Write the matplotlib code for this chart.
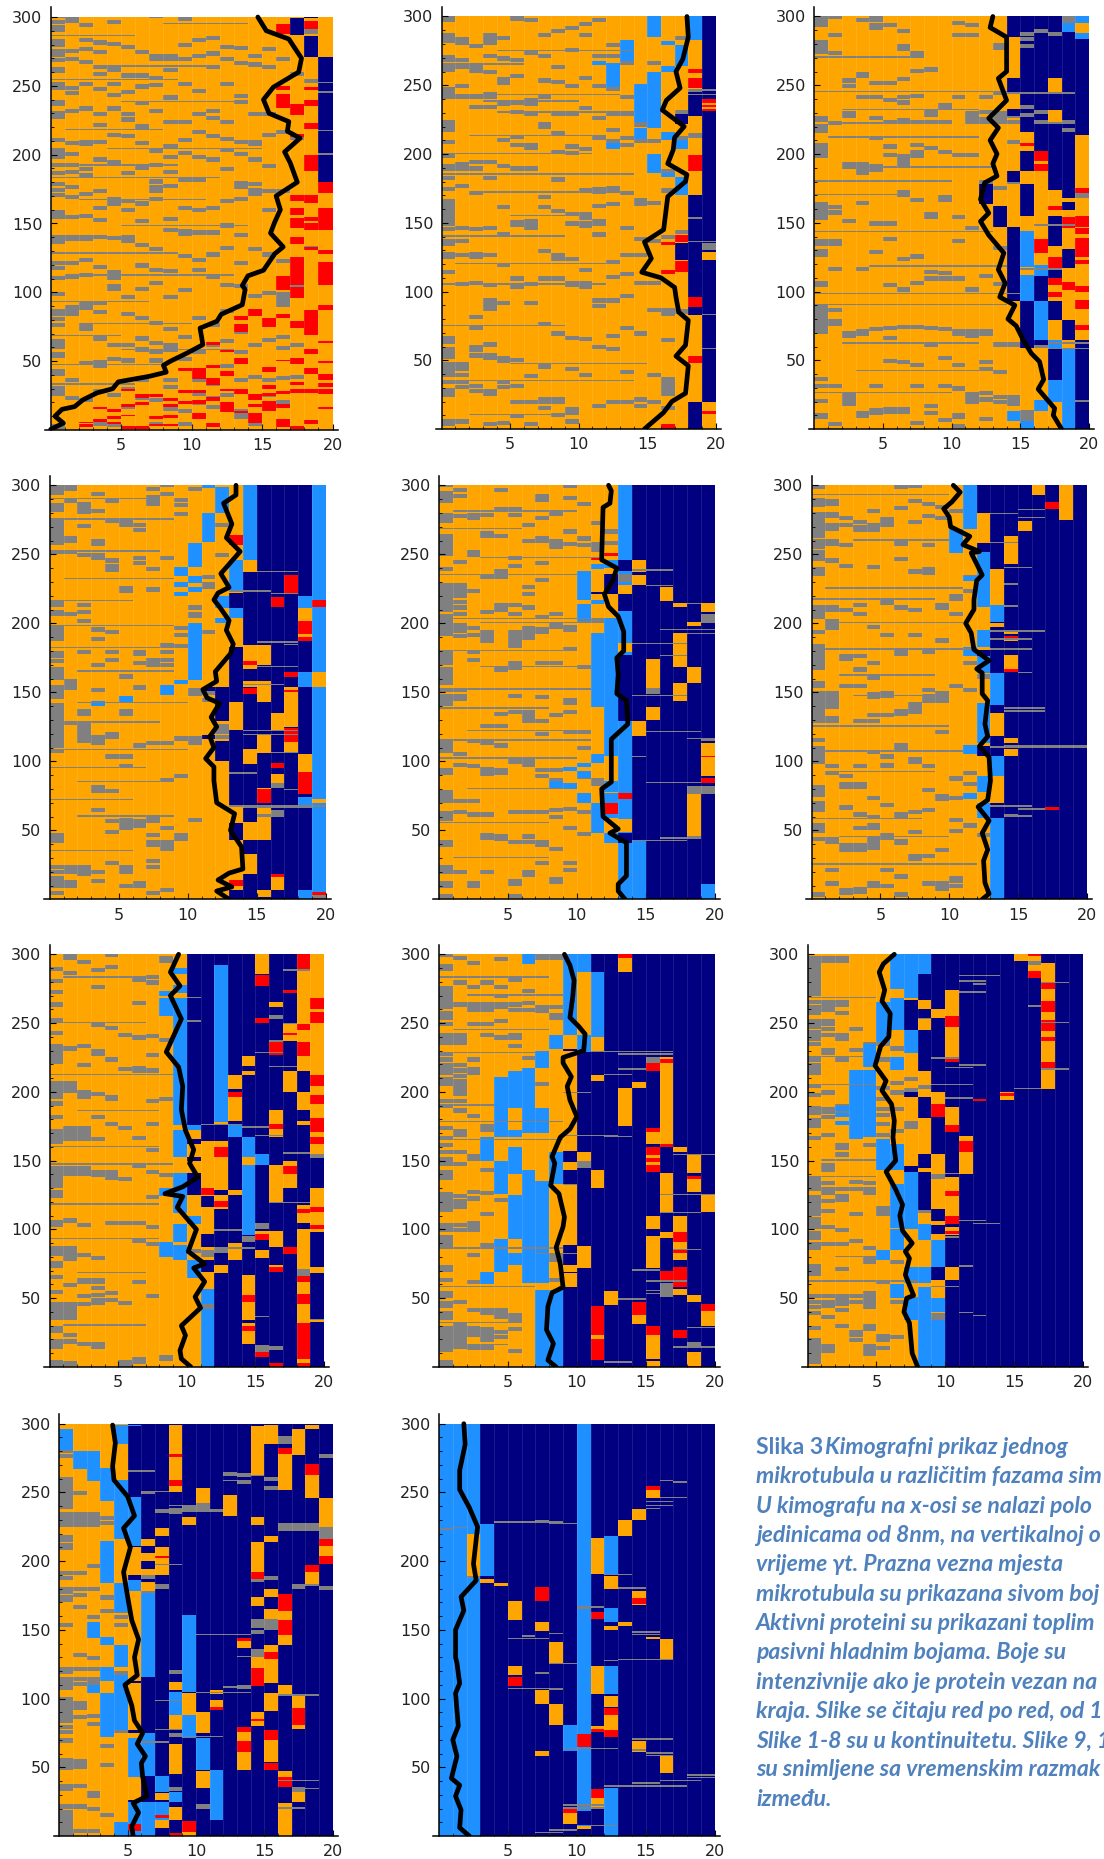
import numpy as np
import matplotlib
matplotlib.use('Agg')
from matplotlib import pyplot as plt
from matplotlib.colors import ListedColormap

CODES = {'O': 0, 'G': 1, 'R': 2, 'L': 3, 'B': 4}
COLORS = ['#FFA500', '#808080', '#FF0000', '#1E90FF', '#000080']

# each panel: base colour per column, blocks per column (from, to, colour),
# gray dashes per column, thin streaks (row, col from, col to), black line

# panel 1
base1 = 'OOOOOOOOOOOOOOOOOOOO'
blocks1 = {
    19: [(180, 271, 'B'), (172, 180, 'R'), (145, 161, 'R'), (128, 131, 'R'), (105, 122, 'R'), (87, 91, 'R'), (36, 41, 'R'), (31, 34, 'R'), (26, 30, 'R'), (15, 17, 'R'), (63, 65, 'R'), (49, 50, 'R')],
    18: [(271, 286, 'B'), (299, 300, 'B'), (291, 297, 'R'), (247, 249, 'R'), (235, 240, 'R'), (219, 223, 'R'), (188, 200, 'R'), (165, 171, 'R'), (152, 155, 'R'), (145, 150, 'R'), (131, 133, 'R'), (69, 87, 'R'), (55, 59, 'R'), (41, 45, 'R'), (27, 30, 'R'), (4, 7, 'R')],
    17: [(287, 299, 'B'), (229, 237, 'R'), (213, 215, 'R'), (166, 171, 'R'), (156, 161, 'R'), (147, 154, 'R'), (135, 140, 'R'), (105, 126, 'R'), (96, 104, 'R'), (74, 79, 'R'), (48, 52, 'R'), (33, 35, 'R'), (27, 30, 'R'), (1, 3, 'R')],
    16: [(288, 295, 'R'), (247, 250, 'R'), (234, 244, 'R'), (102, 112, 'R'), (81, 84, 'R'), (50, 51, 'R'), (2, 8, 'R'), (26, 28, 'R'), (16, 19, 'R')],
    15: [(75, 81, 'R'), (42, 46, 'R'), (30, 33, 'R'), (14, 21, 'R'), (25, 27, 'R')],
    14: [(83, 88, 'R'), (22, 26, 'R'), (5, 12, 'R'), (17, 19, 'R')],
    13: [(80, 83, 'R'), (71, 77, 'R'), (48, 52, 'R'), (26, 30, 'R'), (12, 14, 'R'), (74, 75, 'R')],
    12: [(57, 59, 'R'), (39, 43, 'R'), (13, 20, 'R'), (28, 30, 'R')],
    11: [(45, 47, 'R'), (33, 38, 'R'), (21, 24, 'R'), (2, 5, 'R'), (62, 64, 'R')],
    10: [(37, 45, 'R'), (8, 12, 'R'), (19, 22, 'R'), (27, 29, 'R')],
    9: [(43, 45, 'R'), (19, 21, 'R'), (27, 29, 'R')],
    8: [(21, 23, 'R'), (17, 19, 'R'), (9, 11, 'R'), (3, 4, 'R')],
    7: [(8, 10, 'R'), (3, 4, 'R'), (24, 26, 'R')],
    6: [(23, 26, 'R'), (18, 20, 'R'), (1, 3, 'R')],
    5: [(28, 30, 'R'), (17, 19, 'R'), (10, 11, 'R'), (1, 3, 'R')],
    4: [(13, 15, 'R'), (8, 10, 'R'), (4, 6, 'R')],
    3: [(15, 17, 'R'), (6, 8, 'R')],
    2: [(2, 4, 'R'), (5, 6, 'R')],
}
gray1 = {
    0: [299, 295, 291, 289, 281, 278, 274, 271, 267, 261, 259, 250, 247, 237, 235, 229, 226, 209, 202, 199, 197, 191, 185, 177, 173, 169, 157, 155, 153, 139, 137, 135, 120, 116, 109, 97, 85, 83, 79, 75, 63, 61, 59, 54, 52, 41, 39, 29, 27, 25, 1],
    1: [298, 296, 274, 268, 247, 243, 230, 207, 199, 191, 186, 175, 168, 153, 139, 137, 120, 110, 88, 85, 83, 35, 22],
    2: [293, 282, 275, 266, 250, 232, 208, 206, 188, 184, 170, 154, 139, 137, 122, 111, 90, 87, 75, 72, 47, 20],
    3: [280, 273, 262, 257, 246, 228, 220, 208, 195, 172, 160, 151, 139, 117, 91, 84, 65, 48, 45, 27, 3],
    4: [295, 279, 262, 260, 250, 242, 232, 213, 193, 166, 163, 138, 113, 109, 103, 101, 60, 50, 24, 2],
    5: [277, 256, 244, 228, 224, 212, 185, 165, 158, 139, 136, 95, 83, 60, 49, 28, 15],
    6: [273, 256, 248, 236, 219, 207, 189, 163, 150, 133, 118, 101, 80, 65, 57, 35, 22],
    7: [299, 270, 268, 254, 249, 230, 201, 191, 179, 175, 172, 166, 130, 115, 105, 76, 62, 55, 49, 20, 3],
    8: [270, 268, 260, 240, 222, 205, 197, 186, 176, 152, 144, 114, 95, 72, 60, 57, 35, 30, 14],
    9: [297, 278, 268, 250, 222, 209, 200, 180, 160, 143, 141, 125, 100, 66, 50, 12, 3],
    10: [282, 270, 245, 228, 215, 197, 180, 158, 142, 122, 115, 80, 55, 35, 25, 18],
    11: [283, 272, 262, 230, 225, 212, 195, 160, 142, 126, 110, 75, 60, 32, 22, 15],
    12: [277, 268, 250, 222, 210, 202, 188, 165, 147, 131, 104, 85, 63, 45, 24],
    13: [276, 265, 241, 237, 208, 199, 178, 175, 166, 140, 120, 103, 70, 55, 35, 12, 10, 8],
    14: [270, 264, 228, 208, 206, 195, 177, 173, 170, 130, 96, 60, 37, 22, 3],
    15: [275, 262, 228, 213, 190, 172, 158, 126, 98, 64, 35, 24],
    16: [268, 215, 172, 121, 97, 94, 92, 89, 66, 58, 36, 19],
    17: [289, 257, 211, 103, 60, 37],
    18: [288, 252, 131],
}
streaks1 = [(245, 19, 20), (252, 19, 20), (200, 19, 20), (217, 19, 20),
            (286, 0, 6), (264, 3, 12), (254, 0, 9), (238, 5, 14), (218, 1, 8), (204, 4, 15), (183, 0, 12), (167, 2, 11), (148, 5, 14), (128, 0, 9), (112, 3, 13), (93, 0, 7), (77, 2, 10), (68, 0, 5), (58, 5, 13), (47, 0, 8), (33, 0, 6), (295, 8, 14), (192, 2, 9)]
line1_x = [0, 0.9, 0.3, 0.8, 1.7, 2.3, 3.3, 4.4, 4.8, 7, 8.2, 8, 8.5, 9.7, 10.8, 10.6, 11.8, 12.1, 13.6, 13.8, 13.6, 14, 15.1, 15.9, 16.5, 15.6, 15.9, 16.3, 16, 17.5, 17, 16.6, 17.7, 16.8, 16.9, 15.5, 15.1, 15.8, 17.6, 17.8, 16.9, 15.3, 14.7]
line1_y = [0.5, 5, 10, 15, 17, 22, 27, 30, 35, 39, 42, 47, 50, 56, 62, 74, 79, 84, 91, 102, 105, 112, 116, 128, 133, 143, 151, 160, 170, 180, 194, 202, 212, 217, 224, 230, 240, 249, 260, 270, 284, 290, 300]

# panel 2
base2 = 'OOOOOOOOOOOOOOOOOOOB'
blocks2 = {
    19: [(0, 20, 'O'), (11, 13, 'R'), (231, 240, 'R'), (233, 234, 'O'), (236, 237, 'O'), (123, 129, 'O'), (130, 135, 'G')],
    18: [(283, 300, 'L'), (259, 262, 'R'), (248, 255, 'R'), (228, 245, 'B'), (188, 199, 'R'), (83, 170, 'B'), (89, 96, 'R'), (48, 53, 'R'), (0, 20, 'B')],
    17: [(264, 279, 'L'), (204, 210, 'L'), (170, 183, 'L'), (222, 229, 'B'), (123, 135, 'B'), (114, 122, 'R'), (136, 141, 'R')],
    16: [(279, 282, 'L'), (260, 264, 'L'), (210, 216, 'L'), (183, 186, 'L'), (113, 116, 'R'), (134, 136, 'R'), (0, 4, 'R'), (24, 30, 'G'), (31, 38, 'G')],
    15: [(285, 300, 'L'), (251, 260, 'L'), (219, 251, 'L'), (186, 200, 'L')],
    14: [(223, 251, 'L'), (211, 219, 'L')],
    13: [(268, 283, 'L')],
    12: [(249, 266, 'L'), (204, 208, 'L')],
    11: [(265, 268, 'L')],
}
gray2 = {
    0: [298, 296, 285, 283, 281, 269, 267, 262, 260, 246, 244, 242, 240, 222, 220, 218, 216, 207, 197, 190, 188, 181, 173, 164, 162, 160, 158, 156, 154, 152, 150, 148, 144, 135, 133, 126, 124, 113, 65, 62, 57, 55, 53, 51, 46, 44, 42, 40, 38, 33, 27, 25, 23, 4, 2],
    1: [282, 279, 267, 262, 248, 240, 191, 188, 175, 145, 135, 125, 104, 46, 44, 42, 38, 33, 29, 4],
    2: [277, 262, 259, 240, 233, 193, 188, 170, 144, 126, 124, 105, 80, 72, 58, 56, 52, 30, 26],
    3: [285, 283, 281, 279, 270, 258, 242, 240, 233, 193, 181, 145, 125, 103, 92, 90, 88, 86, 60, 52, 50, 26, 24, 2],
    4: [283, 268, 253, 250, 235, 209, 190, 160, 140, 118, 90, 50, 48, 33, 29, 3],
    5: [297, 267, 255, 236, 229, 211, 205, 188, 149, 147, 108, 102, 49, 30, 18, 8],
    6: [296, 272, 238, 235, 228, 205, 203, 188, 150, 148, 145, 104, 90, 37, 18, 2],
    7: [285, 270, 252, 240, 218, 220, 160, 167, 128, 108, 75, 44, 20, 18, 14],
    8: [288, 262, 251, 228, 214, 200, 180, 157, 122, 125, 108, 68, 20, 18, 9],
    9: [290, 274, 248, 228, 204, 199, 155, 148, 122, 105, 103, 65, 42, 13, 10, 4],
    10: [293, 285, 254, 232, 202, 172, 155, 152, 148, 146, 114, 105, 102, 64, 38],
    11: [296, 270, 248, 225, 210, 173, 171, 161, 150, 148, 140, 92, 88, 58, 15],
    12: [278, 270, 246, 228, 216, 208, 174, 172, 162, 120, 109, 92, 66, 57, 18],
    13: [265, 240, 228, 210, 205, 170, 145, 125, 111, 95, 72, 40, 18],
    14: [240, 220, 208, 165, 162, 137, 125, 105, 68, 20, 15],
    15: [287, 265, 208, 163, 135, 105, 85, 38, 18],
    16: [186, 172, 138, 85, 82, 63, 14, 30],
    17: [283, 229, 210, 142, 84],
    18: [244, 242, 212, 83],
}
streaks2 = [(83, 19, 20), (58, 19, 20), (246, 19, 20), (243, 18, 20), (136, 18, 20), (153, 18, 19),
            (105, 0, 12), (47, 5, 15), (35, 1, 14), (243, 0, 13), (238, 3, 10), (230, 4, 13), (213, 2, 12), (185, 0, 14), (172, 3, 12), (120, 1, 12), (75, 0, 9), (265, 0, 6), (275, 4, 14), (140, 0, 9), (10, 2, 10), (200, 0, 11), (155, 5, 11)]
line2_x = [14.8, 16.2, 16.8, 17.8, 18, 17.1, 17.8, 18, 17.3, 17.1, 17, 16, 14.6, 15.3, 14.8, 16.2, 16.5, 17.8, 17.9, 16.5, 16.9, 17, 17.7, 16.1, 16.4, 17.4, 17.1, 17.6, 18, 17.9]
line2_y = [0, 12, 20, 26, 46, 53, 61, 79, 85, 96, 103, 110, 114, 124, 136, 145, 169, 180, 185, 193, 203, 212, 220, 232, 239, 248, 260, 269, 285, 300]

# panel 3
base3 = 'OOOOOOOOOOOOOOOBBBBO'
blocks3 = {
    19: [(295, 300, 'L'), (284, 288, 'L'), (214, 284, 'B'), (172, 175, 'R'), (168, 172, 'G'), (147, 155, 'R'), (142, 146, 'R'), (125, 139, 'R'), (120, 123, 'R'), (0, 65, 'B'), (72, 76, 'R'), (87, 94, 'R'), (100, 104, 'R')],
    18: [(295, 300, 'G'), (289, 295, 'L'), (0, 59, 'L'), (59, 65, 'O'), (65, 79, 'B'), (79, 101, 'O'), (101, 107, 'R'), (107, 117, 'O'), (117, 131, 'B'), (131, 146, 'O'), (146, 154, 'R'), (154, 159, 'O'), (159, 165, 'B'), (165, 168, 'O')],
    17: [(0, 20, 'O'), (20, 36, 'L'), (36, 50, 'B'), (53, 58, 'B'), (58, 65, 'L'), (65, 79, 'O'), (93, 96, 'O'), (96, 100, 'R'), (100, 105, 'O'), (105, 110, 'R'), (117, 125, 'R'), (125, 133, 'O'), (145, 155, 'B'), (155, 159, 'O'), (159, 162, 'R'), (162, 174, 'O'), (244, 255, 'O'), (223, 232, 'O')],
    16: [(0, 13, 'O'), (13, 21, 'L'), (21, 59, 'O'), (65, 93, 'L'), (111, 119, 'L'), (119, 128, 'O'), (128, 138, 'R'), (138, 188, 'O'), (188, 202, 'R'), (193, 195, 'O'), (93, 111, 'B')],
    15: [(0, 6, 'L'), (6, 14, 'G'), (14, 59, 'O'), (59, 93, 'B'), (93, 112, 'L'), (112, 118, 'O'), (118, 144, 'L'), (144, 155, 'O'), (158, 178, 'B'), (178, 188, 'O'), (188, 201, 'B'), (202, 216, 'O'), (206, 208, 'R')],
    14: [(6, 13, 'L'), (93, 118, 'B'), (118, 147, 'B'), (180, 188, 'B'), (237, 244, 'O'), (245, 255, 'B'), (285, 300, 'B'), (228, 233, 'B')],
    13: [(147, 162, 'B')],
    12: [(164, 178, 'B')],
}
gray3 = {
    0: [298, 296, 294, 292, 280, 278, 276, 273, 225, 223, 219, 217, 215, 205, 203, 201, 199, 197, 162, 160, 158, 156, 154, 152, 135, 133, 125, 128, 105, 103, 87, 85, 83, 81, 79, 77, 75, 73, 71, 69, 35, 30, 19, 9, 7],
    1: [298, 285, 272, 221, 160, 156, 135, 133, 115, 85, 77, 75, 30, 2],
    2: [252, 248, 228, 226, 191, 189, 150, 68, 66, 23, 21, 19, 17],
    3: [296, 257, 255, 240, 191, 189, 187, 185, 163, 70, 68, 10, 8, 115],
    4: [298, 296, 292, 290, 250, 240, 225, 210, 190, 187, 148, 127, 71, 30, 12, 10],
    5: [292, 250, 238, 222, 204, 198, 148, 137, 103, 72, 65, 48, 13, 11],
    6: [288, 277, 275, 253, 240, 236, 223, 197, 194, 191, 171, 169, 122, 100, 73, 47, 13, 11],
    7: [272, 270, 259, 241, 222, 205, 200, 197, 165, 124, 105, 73, 45, 30, 3],
    8: [260, 229, 227, 222, 203, 155, 153, 113, 108, 72, 60, 15, 10],
    9: [234, 232, 222, 200, 167, 165, 112, 108, 71, 50, 30, 5],
    10: [294, 285, 240, 198, 153, 135, 108, 70, 68, 45, 28, 9, 7, 1],
    11: [292, 285, 228, 226, 224, 222, 198, 145, 100, 70, 68, 66, 24, 22, 20, 18],
    12: [240, 229, 224, 222, 178, 175, 110, 70, 68, 47, 42, 25, 20, 6],
    13: [278, 276, 243, 228, 226, 224, 222, 174, 130, 104, 60, 40, 22, 18],
    14: [228, 226, 222, 207, 178, 96, 60, 22, 20, 17],
    15: [286, 282, 277, 233, 227, 115, 61, 11],
    16: [288, 229, 222, 125, 58, 56],
    17: [286, 222, 145, 60],
    18: [222, 216, 60],
}
streaks3 = [(58, 17, 20), (62, 17, 20), (20, 19, 20), (148, 16, 19), (116, 15, 18), (244, 14, 19),
            (270, 0, 8), (245, 0, 13), (232, 2, 12), (212, 1, 12), (190, 3, 13), (180, 0, 10), (170, 0, 7), (143, 0, 13), (118, 4, 14), (98, 0, 15), (90, 0, 14), (62, 2, 12), (42, 3, 14), (26, 0, 10), (222, 2, 9)]
line3_x = [18, 17.4, 17.5, 16.3, 16.7, 16.4, 15.8, 15.2, 14.7, 14.1, 14.6, 13.5, 13.9, 13.4, 13.8, 12.7, 12.1, 12.7, 12.1, 12.4, 13.3, 13, 13.3, 12.8, 13.4, 12.7, 14, 13.4, 14, 14, 12.8, 13]
line3_y = [0, 10, 15, 29, 36, 49, 55, 65, 75, 80, 90, 96, 106, 116, 128, 141, 151, 157, 167, 179, 184, 193, 200, 210, 219, 226, 239, 255, 260, 285, 292, 300]

# panel 4
base4 = 'OOOOOOOOOOOOOOBBBBBL'
blocks4 = {
    19: [(212, 217, 'R'), (154, 165, 'O'), (70, 73, 'O'), (0, 5, 'R'), (1, 3, 'G')],
    18: [(211, 220, 'L'), (202, 211, 'O'), (187, 202, 'R'), (190, 192, 'O'), (154, 165, 'L'), (92, 105, 'O'), (76, 92, 'R'), (68, 74, 'L'), (0, 7, 'L')],
    17: [(221, 235, 'R'), (161, 165, 'R'), (148, 154, 'O'), (150, 152, 'R'), (125, 148, 'O'), (114, 124, 'R'), (106, 114, 'O')],
    16: [(212, 219, 'R'), (123, 135, 'O'), (95, 99, 'R'), (84, 91, 'O'), (81, 84, 'G'), (60, 65, 'G'), (16, 18, 'R'), (7, 16, 'O')],
    15: [(170, 184, 'O'), (143, 158, 'O'), (106, 120, 'O'), (70, 80, 'R'), (80, 81, 'O'), (59, 66, 'O'), (43, 59, 'O'), (60, 62, 'G'), (18, 33, 'B'), (2, 7, 'O'), (0, 2, 'B'), (66, 68, 'B'), (33, 43, 'B')],
    14: [(246, 300, 'L'), (237, 246, 'O'), (167, 184, 'O'), (170, 173, 'R'), (154, 158, 'O'), (149, 153, 'R'), (98, 109, 'O'), (56, 66, 'B'), (43, 56, 'O'), (18, 33, 'O')],
    13: [(257, 264, 'R'), (223, 246, 'L'), (211, 222, 'B'), (204, 211, 'L'), (143, 183, 'B'), (129, 136, 'O'), (109, 123, 'B'), (67, 109, 'B'), (43, 55, 'B'), (10, 14, 'R'), (0, 7, 'B')],
    12: [(293, 299, 'L'), (280, 293, 'L'), (211, 220, 'L'), (200, 204, 'L'), (136, 154, 'B'), (129, 136, 'B'), (120, 127, 'G'), (116, 119, 'G'), (100, 115, 'B')],
    11: [(298, 300, 'L'), (259, 280, 'L'), (116, 119, 'B'), (151, 154, 'B')],
    10: [(241, 258, 'L'), (229, 234, 'L'), (223, 226, 'L'), (159, 200, 'L'), (204, 208, 'G')],
    9: [(234, 241, 'L'), (226, 230, 'L'), (220, 223, 'L'), (156, 159, 'L')],
    8: [(148, 155, 'L')],
    5: [(143, 147, 'L')],
    3: [(140, 144, 'L')],
}
gray4 = {
    0: [298, 296, 293, 284, 281, 272, 269, 267, 265, 263, 261, 259, 257, 250, 214, 212, 207, 205, 195, 193, 191, 189, 187, 177, 175, 171, 165, 163, 161, 159, 152, 149, 147, 145, 139, 137, 135, 133, 131, 129, 127, 125, 122, 120, 118, 115, 112, 110, 106, 45, 43, 41, 22, 18, 14, 12, 10, 8, 3],
    1: [299, 296, 287, 260, 258, 250, 205, 157, 155, 152, 126, 22, 20, 18, 8, 11],
    2: [285, 282, 279, 269, 248, 212, 207, 200, 178, 135, 133, 125, 122, 120, 117, 115, 113, 22, 20, 17],
    3: [292, 280, 258, 256, 248, 246, 194, 187, 168, 150, 116, 114, 112, 80, 77, 63, 18, 12],
    4: [287, 273, 244, 240, 237, 192, 178, 172, 118, 116, 102, 77, 55, 47, 25],
    5: [272, 270, 224, 222, 160, 135, 133, 102, 95, 56, 53, 50, 22, 20, 18, 8],
    6: [270, 266, 246, 242, 178, 176, 170, 152, 110, 55, 52, 10, 8],
    7: [296, 290, 288, 285, 238, 223, 172, 170, 168, 112, 57, 55, 45, 40, 38, 26, 22, 3],
    8: [299, 292, 246, 246, 183, 178, 172, 168, 112, 85, 50, 40, 37, 35, 5],
    9: [288, 284, 278, 195, 190, 182, 115, 88, 42, 45],
    10: [296, 150, 147, 115, 112, 56, 210, 245],
    11: [270, 232, 227, 225, 192, 148, 143],
    12: [248, 270, 145],
    13: [],
}
streaks4 = [(223, 13, 16), (221, 16, 18), (237, 15, 18), (186, 15, 18), (184, 17, 18), (67, 13, 20), (66, 14, 19), (106, 16, 18), (79, 17, 18), (91, 13, 15), (122, 14, 18), (119, 14, 18), (155, 14, 17), (168, 15, 18),
            (290, 0, 7), (275, 0, 9), (252, 0, 8), (232, 1, 9), (216, 0, 6), (198, 0, 9), (182, 0, 10), (165, 2, 9), (142, 2, 10), (128, 0, 8), (108, 1, 10), (95, 0, 7), (85, 2, 8), (72, 0, 6), (60, 2, 9), (35, 0, 6)]
line4_x = [13, 12.1, 13.2, 12.2, 13, 14, 13.9, 13.1, 13.4, 12.1, 11.9, 11.9, 11.3, 11.9, 11.6, 12.1, 11.7, 12.3, 11.4, 11.1, 12.1, 12, 13.1, 13.3, 12.8, 13, 12.3, 11.9, 12.2, 13, 12.4, 13.8, 12.8, 13.2, 12.6, 13.5, 13.5]
line4_y = [0, 6, 9, 14, 19, 22, 38, 50, 62, 70, 86, 96, 102, 110, 118, 125, 132, 142, 146, 152, 158, 165, 178, 185, 195, 202, 212, 217, 222, 226, 236, 252, 262, 272, 287, 293, 300]

# panel 5
base5 = 'OOOOOOOOOOOOOLBBBBBB'
blocks5 = {
    13: [(238, 246, 'B'), (230, 236, 'G'), (221, 228, 'O'), (209, 221, 'B'), (176, 177, 'B'), (179, 186, 'O'), (144, 176, 'B'), (129, 144, 'B'), (73, 77, 'R'), (49, 58, 'O'), (41, 48, 'B')],
    14: [(237, 246, 'O'), (228, 235, 'O'), (118, 129, 'O'), (0, 42, 'L')],
    15: [(153, 174, 'O'), (149, 153, 'G'), (130, 139, 'O')],
    16: [(216, 226, 'O')],
    17: [(212, 215, 'O'), (168, 193, 'O'), (144, 157, 'O')],
    18: [(157, 168, 'O'), (45, 76, 'O'), (76, 82, 'G'), (198, 201, 'O')],
    19: [(208, 215, 'O'), (200, 207, 'G'), (89, 113, 'O'), (103, 104, 'R'), (84, 88, 'R'), (76, 82, 'G'), (0, 11, 'L')],
    12: [(249, 251, 'R'), (240, 246, 'L'), (221, 236, 'B'), (212, 220, 'O'), (142, 204, 'L'), (104, 142, 'L'), (78, 86, 'L'), (70, 77, 'L'), (62, 70, 'R'), (59, 62, 'L'), (41, 48, 'L')],
    11: [(246, 248, 'R'), (239, 243, 'L'), (221, 223, 'B'), (214, 217, 'L'), (139, 193, 'L'), (99, 105, 'L'), (48, 70, 'L')],
    10: [(217, 238, 'L'), (202, 214, 'L'), (96, 99, 'L'), (88, 93, 'L'), (70, 77, 'L')],
    9: [(93, 96, 'L'), (80, 84, 'L')],
    8: [(81, 86, 'L')],
}
gray5 = {
    0: [299, 293, 291, 289, 287, 277, 275, 273, 262, 260, 258, 256, 254, 252, 249, 238, 226, 224, 222, 220, 218, 216, 214, 212, 210, 208, 204, 202, 200, 198, 196, 193, 191, 178, 176, 174, 172, 170, 165, 163, 161, 159, 157, 155, 150, 146, 144, 142, 140, 112, 110, 108, 106, 92, 90, 76, 74, 72, 70, 61, 59, 57, 40, 38, 22, 20, 18, 10, 8, 1],
    1: [295, 291, 276, 243, 226, 224, 222, 220, 218, 214, 210, 205, 197, 195, 193, 189, 150, 146, 144, 104, 96, 70, 62, 18],
    2: [277, 275, 250, 248, 222, 195, 190, 178, 172, 113, 95, 70, 60, 10, 8],
    3: [277, 264, 262, 232, 207, 192, 190, 188, 186, 124, 112, 93, 91, 89, 60, 45, 43, 18],
    4: [295, 281, 262, 236, 232, 212, 210, 208, 165, 133, 124, 110, 92, 90, 44, 42],
    5: [281, 277, 246, 240, 212, 205, 192, 190, 188, 186, 184, 182, 170, 168, 166, 146, 134, 100, 98, 62, 40, 12, 10, 1],
    6: [270, 258, 225, 220, 210, 195, 192, 190, 188, 134, 132, 130, 128, 100, 98, 96, 62, 44, 40, 18, 16],
    7: [291, 288, 275, 260, 258, 242, 230, 203, 194, 192, 170, 145, 128, 118, 92, 88, 62, 40, 38, 25],
    8: [278, 258, 256, 254, 205, 198, 196, 170, 132, 92, 85, 63, 58, 35, 13, 11],
    9: [298, 289, 265, 256, 196, 194, 180, 143, 141, 134, 120, 64, 50, 25, 20],
    10: [285, 260, 255, 200, 167, 120, 108, 87, 62, 46],
    11: [271, 256, 254, 252, 200, 187, 85, 82],
    12: [265, 257, 222, 187],
}
streaks5 = [(42, 14, 18), (44, 16, 19), (45, 18, 19), (116, 18, 20), (115, 19, 20), (121, 15, 19), (84, 15, 19), (103, 14, 15), (195, 16, 20), (192, 18, 20), (214, 18, 19), (238, 14, 17), (185, 14, 18), (176, 16, 18), (227, 15, 17), (147, 14, 18),
            (281, 1, 10), (268, 0, 6), (247, 3, 12), (235, 0, 10), (203, 0, 12), (180, 1, 9), (168, 3, 10), (152, 2, 11), (138, 0, 8), (122, 2, 9), (115, 0, 11), (102, 0, 10), (80, 2, 9), (55, 0, 8), (30, 1, 8), (200, 3, 10)]
line5_x = [13.5, 13, 13, 13.6, 13.6, 12.4, 13, 11.9, 11.8, 12.5, 12.5, 12.5, 13.7, 13.6, 12.9, 13, 12.9, 13.4, 13.4, 13, 12.3, 12, 12.6, 12.9, 11.8, 11.9, 12.4, 12.5, 12.3]
line5_y = [0, 6, 11, 17, 41, 48, 51, 60, 80, 85, 100, 116, 127, 144, 149, 163, 175, 180, 194, 205, 212, 221, 231, 240, 246, 284, 287, 296, 300]

# panel 6
base6 = 'OOOOOOOOOOOOOBBBBBBB'
blocks6 = {
    11: [(268, 300, 'L'), (231, 234, 'L'), (176, 183, 'L'), (105, 112, 'L'), (73, 77, 'L')],
    10: [(251, 268, 'L')],
    12: [(280, 300, 'B'), (250, 258, 'B'), (212, 252, 'L'), (183, 195, 'L'), (176, 181, 'B'), (164, 176, 'L'), (113, 142, 'L'), (104, 111, 'B'), (78, 89, 'L'), (59, 70, 'L')],
    13: [(239, 263, 'B'), (213, 239, 'O'), (201, 213, 'L'), (197, 200, 'O'), (164, 176, 'B'), (141, 164, 'L'), (118, 135, 'O'), (89, 104, 'L'), (70, 89, 'O'), (0, 59, 'L')],
    14: [(243, 263, 'O'), (192, 195, 'O'), (188, 191, 'R'), (187, 188, 'O'), (167, 177, 'O'), (165, 167, 'R'), (113, 117, 'O'), (104, 109, 'O')],
    15: [(267, 274, 'O')],
    16: [(293, 300, 'O')],
    17: [(283, 288, 'R'), (65, 67, 'R')],
    18: [(275, 300, 'O')],
}
gray6 = {
    0: [299, 297, 288, 286, 284, 278, 276, 274, 272, 270, 268, 266, 264, 262, 258, 256, 254, 250, 248, 245, 238, 236, 234, 210, 208, 206, 203, 192, 182, 180, 178, 176, 174, 172, 170, 168, 166, 155, 153, 148, 146, 144, 142, 140, 138, 136, 134, 132, 130, 128, 114, 108, 104, 102, 100, 98, 80, 78, 76, 74, 68, 66, 63, 52, 50, 48, 42, 2],
    1: [287, 285, 278, 276, 270, 267, 258, 256, 244, 210, 208, 200, 198, 196, 195, 148, 146, 144, 142, 140, 138, 130, 128, 95, 90, 42, 40, 20, 10],
    2: [275, 270, 255, 240, 208, 175, 173, 153, 88, 82, 80, 65, 38, 36, 34, 5, 3],
    3: [272, 268, 266, 212, 205, 175, 165, 153, 128, 95, 82, 80, 60, 50, 38, 36, 34, 6, 4],
    4: [280, 270, 268, 266, 239, 196, 170, 159, 147, 145, 132, 128, 105, 72, 58, 52, 50, 42, 40, 38, 36, 10, 8],
    5: [274, 272, 270, 215, 213, 190, 148, 146, 132, 102, 96, 95, 67, 45, 43, 20, 8],
    6: [297, 282, 258, 256, 245, 210, 178, 176, 135, 133, 110, 108, 60, 58, 41, 39, 15, 2],
    7: [298, 287, 272, 236, 208, 190, 140, 138, 136, 134, 100, 98, 62, 47, 30, 28],
    8: [285, 276, 255, 238, 235, 178, 150, 146, 144, 142, 95, 78, 63, 30, 10],
    9: [275, 283, 212, 210, 186, 148, 145, 142, 120, 73, 71, 34, 10, 8, 6],
    10: [280, 218, 216, 205, 153, 86, 72, 56, 48, 14, 12, 8],
    11: [232, 222, 170, 150, 90, 82, 52],
    12: [160, 108, 82, 45],
}
streaks6 = [(110, 13, 20), (111, 14, 20), (67, 13, 16), (61, 14, 15), (60, 14, 16), (65, 15, 17), (194, 13, 17), (188, 13, 16), (181, 13, 16), (164, 15, 16), (240, 14, 16), (138, 14, 17), (136, 14, 17), (228, 14, 15), (212, 14, 15), (258, 13, 15), (282, 15, 17), (276, 15, 17), (279, 13, 15),
            (293, 0, 10), (260, 3, 10), (225, 1, 11), (217, 0, 9), (200, 1, 11), (181, 0, 12), (162, 2, 9), (125, 0, 10), (107, 0, 11), (92, 1, 9), (58, 0, 8), (25, 0, 12), (147, 3, 10), (45, 2, 10)]
line6_x = [12.4, 12.9, 12.6, 12.5, 12.8, 12.4, 12.9, 12.1, 12.8, 13, 12.9, 12.2, 12.8, 12.6, 12.8, 12.4, 12.4, 12, 12.9, 11.8, 11.6, 11.2, 11.8, 11.8, 12, 12.4, 11.6, 12.2, 11, 11.5, 10.1, 10, 9.6, 10.2, 10.8, 10.3]
line6_y = [0, 4, 12, 28, 36, 48, 57, 67, 72, 86, 103, 111, 118, 127, 144, 149, 164, 167, 173, 181, 193, 200, 210, 217, 231, 235, 251, 252, 257, 263, 270, 277, 283, 288, 295, 300]

# panel 7
base7 = 'OOOOOOOOOOOOOBBBBBOO'
blocks7 = {
    8: [(270, 273, 'L'), (255, 265, 'L'), (258, 268, 'L'), (124, 130, 'L'), (80, 91, 'L')],
    9: [(286, 290, 'L'), (272, 278, 'L'), (245, 268, 'L'), (176, 245, 'L'), (153, 172, 'L'), (112, 141, 'L'), (91, 104, 'L'), (78, 89, 'L')],
    10: [(176, 300, 'B'), (172, 176, 'L'), (162, 166, 'B'), (150, 153, 'B'), (125, 141, 'B'), (104, 110, 'L'), (65, 78, 'L')],
    11: [(176, 300, 'B'), (164, 176, 'B'), (125, 130, 'R'), (116, 124, 'B'), (87, 97, 'B'), (69, 78, 'B'), (0, 57, 'L'), (42, 46, 'G')],
    12: [(292, 300, 'B'), (178, 292, 'L'), (164, 176, 'B'), (153, 160, 'R'), (125, 129, 'B'), (116, 121, 'R'), (74, 115, 'B'), (83, 87, 'G'), (69, 74, 'O'), (0, 68, 'B'), (90, 115, 'B')],
    13: [(212, 300, 'B'), (202, 212, 'O'), (196, 200, 'R'), (179, 196, 'O'), (167, 176, 'L'), (154, 164, 'B'), (130, 154, 'B'), (125, 129, 'O'), (97, 124, 'B'), (78, 90, 'O'), (0, 68, 'B'), (70, 78, 'B')],
    14: [(226, 300, 'B'), (219, 226, 'O'), (212, 215, 'O'), (167, 212, 'B'), (153, 167, 'L'), (147, 153, 'O'), (96, 147, 'L'), (91, 95, 'G'), (78, 85, 'B'), (34, 67, 'O'), (47, 52, 'R'), (26, 30, 'R'), (17, 26, 'O'), (30, 32, 'O')],
    15: [(286, 300, 'O'), (277, 285, 'R'), (250, 254, 'R'), (147, 155, 'L'), (97, 99, 'O'), (92, 97, 'R'), (79, 85, 'O'), (7, 11, 'R'), (11, 16, 'G')],
    16: [(262, 265, 'O'), (227, 236, 'R'), (167, 187, 'O'), (173, 177, 'R'), (130, 147, 'O'), (119, 130, 'O'), (87, 99, 'O'), (69, 73, 'R'), (73, 74, 'O'), (0, 3, 'R')],
    17: [(237, 249, 'O'), (241, 243, 'R'), (200, 215, 'O'), (140, 146, 'R'), (130, 140, 'O'), (146, 150, 'O'), (82, 87, 'R'), (272, 274, 'R')],
    18: [(289, 300, 'R'), (245, 249, 'R'), (226, 236, 'R'), (200, 215, 'B'), (112, 115, 'R'), (100, 105, 'B'), (179, 187, 'B'), (118, 176, 'B'), (46, 53, 'R'), (0, 32, 'R'), (3, 6, 'O'), (62, 66, 'R')],
    19: [(250, 268, 'R'), (258, 260, 'O'), (204, 212, 'R'), (191, 198, 'R'), (171, 181, 'R'), (162, 167, 'R'), (130, 152, 'B'), (113, 116, 'R'), (100, 103, 'R'), (73, 98, 'B'), (35, 68, 'B'), (0, 33, 'B')],
}
gray7 = {
    0: [288, 279, 271, 262, 251, 241, 232, 229, 226, 224, 222, 220, 205, 203, 201, 199, 197, 195, 190, 180, 170, 168, 166, 164, 162, 143, 141, 139, 137, 135, 132, 130, 126, 123, 104, 102, 85, 83, 81, 74, 72, 64, 53, 44, 42, 40, 38, 36, 34, 27, 25, 17, 15, 13, 2, 0],
    1: [298, 296, 285, 230, 205, 203, 201, 199, 172, 170, 168, 166, 164, 143, 141, 139, 105, 85, 83, 81, 79, 77, 58, 44, 42, 40, 38, 36, 34, 22, 17, 1],
    2: [293, 232, 218, 198, 195, 172, 170, 168, 166, 164, 143, 141, 139, 102, 80, 62, 60, 50, 44, 15],
    3: [287, 275, 247, 228, 226, 197, 180, 164, 140, 138, 78, 62, 60, 56, 51, 47, 45, 15, 13],
    4: [298, 289, 245, 222, 195, 193, 175, 140, 138, 136, 103, 52, 47],
    5: [240, 215, 172, 135, 103, 2, 0, 45],
    6: [280, 263, 238, 216, 214, 165, 145, 103, 90, 60, 4, 2],
    7: [282, 278, 239, 225, 214, 192, 175, 156, 140, 122, 100, 88, 50],
    8: [296, 294, 236, 193, 138, 88, 85, 6, 4],
    9: [180, 125, 120, 79],
    10: [125, 83, 70],
    11: [165, 82, 80, 43],
    12: [85, 83, 42],
    15: [102, 100],
    16: [253, 235, 130, 12],
    17: [247, 244],
    18: [68, 66],
    19: [152, 34],
}
streaks7 = [(268, 10, 11), (251, 10, 11), (176, 11, 14), (174, 14, 16), (99, 12, 14), (86, 12, 15), (288, 17, 19), (228, 15, 17), (218, 16, 18), (168, 15, 17), (119, 16, 19), (36, 15, 16), (155, 17, 19),
            (283, 1, 8), (250, 0, 7), (212, 0, 9), (186, 2, 8), (160, 0, 8), (147, 0, 9), (118, 0, 8), (93, 0, 8), (68, 2, 7), (30, 1, 7)]
line7_x = [10.3, 9.6, 9.5, 9.9, 9.6, 11, 10.6, 11.3, 10.5, 11.3, 10.1, 10.7, 9.3, 9.7, 8.4, 9.7, 10.8, 10.2, 10.5, 9.9, 9.6, 9.7, 9.4, 8.5, 9, 9.6, 8.8, 9.5, 8.8, 9.4]
line7_y = [0, 6, 12, 23, 30, 43, 51, 62, 72, 75, 84, 100, 116, 124, 126, 131, 138, 148, 158, 172, 187, 204, 218, 229, 240, 253, 270, 277, 287, 300]

# panel 8
base8 = 'OOOOOOOOOBBBBBBBBBBB'
blocks8 = {
    3: [(150, 167, 'L'), (60, 69, 'L')],
    4: [(167, 211, 'L'), (154, 161, 'O'), (126, 150, 'L'), (69, 93, 'L')],
    5: [(188, 215, 'L'), (167, 172, 'L'), (150, 160, 'L'), (140, 150, 'L'), (127, 140, 'O'), (93, 125, 'L'), (74, 83, 'L')],
    6: [(293, 300, 'L'), (170, 217, 'L'), (143, 162, 'O'), (126, 143, 'L'), (61, 126, 'L')],
    7: [(217, 230, 'L'), (170, 188, 'L'), (136, 170, 'O'), (61, 135, 'L'), (0, 56, 'L')],
    8: [(231, 241, 'L'), (133, 156, 'L'), (0, 56, 'L'), (76, 78, 'G')],
    9: [(241, 300, 'L'), (231, 241, 'O'), (164, 230, 'O'), (157, 164, 'O'), (149, 157, 'B'), (133, 143, 'B'), (89, 127, 'O'), (74, 88, 'B'), (58, 68, 'O'), (143, 149, 'O'), (127, 132, 'O'), (69, 74, 'O')],
    10: [(287, 300, 'L'), (229, 241, 'L'), (241, 287, 'O'), (150, 156, 'O'), (72, 88, 'O')],
    11: [(287, 300, 'B'), (240, 287, 'L'), (229, 240, 'O'), (208, 212, 'O'), (130, 143, 'O'), (5, 44, 'R'), (20, 23, 'O')],
    12: [(45, 55, 'O')],
    13: [(297, 300, 'R'), (287, 297, 'O'), (175, 203, 'O')],
    14: [(203, 207, 'O'), (38, 47, 'R'), (31, 38, 'O')],
    15: [(221, 225, 'G'), (215, 221, 'R'), (171, 174, 'R'), (162, 171, 'O'), (142, 160, 'R'), (147, 149, 'O'), (152, 154, 'O'), (100, 110, 'O'), (72, 95, 'O'), (23, 30, 'R'), (6, 23, 'O'), (0, 4, 'O')],
    16: [(162, 225, 'O'), (221, 224, 'R'), (160, 162, 'R'), (112, 141, 'O'), (94, 98, 'O'), (63, 70, 'R'), (51, 61, 'G')],
    17: [(156, 160, 'O'), (98, 110, 'O'), (91, 98, 'R'), (78, 91, 'O'), (83, 86, 'R'), (58, 73, 'R'), (52, 57, 'O'), (21, 27, 'R')],
    18: [(141, 154, 'O'), (137, 139, 'R'), (127, 137, 'O'), (47, 52, 'O'), (1, 11, 'O'), (0, 1, 'R')],
    19: [(113, 126, 'O'), (41, 46, 'R'), (30, 41, 'O')],
}
gray8 = {
    0: [298, 290, 288, 274, 272, 270, 268, 266, 264, 262, 260, 256, 254, 252, 248, 240, 238, 236, 234, 226, 222, 218, 216, 214, 212, 208, 206, 204, 192, 188, 172, 165, 160, 155, 150, 148, 146, 140, 138, 136, 124, 122, 120, 118, 116, 113, 102, 100, 98, 93, 91, 89, 87, 71, 69, 62, 52, 50, 45, 43, 38, 36, 34, 27, 25, 23, 20, 18, 15, 13, 11, 2, 0],
    1: [296, 278, 262, 240, 238, 236, 234, 218, 214, 210, 206, 203, 201, 199, 197, 192, 185, 170, 167, 155, 146, 123, 119, 117, 115, 102, 98, 46, 30, 28, 26, 24, 22, 20, 18, 15, 13],
    2: [292, 275, 262, 260, 258, 248, 222, 215, 212, 181, 152, 150, 126, 121, 103, 101, 99, 98, 80, 60, 40, 27, 24, 22, 14, 12],
    3: [278, 262, 260, 258, 248, 240, 174, 171, 142, 125, 110, 87, 40, 38, 26, 24, 22, 20, 18, 14, 12],
    4: [295, 275, 268, 262, 260, 250, 238, 120, 40, 38, 35, 24, 20],
    5: [280, 262, 258, 240, 238, 232, 169, 167, 36, 33, 26, 10],
    6: [272, 263, 258, 223, 214, 145, 78],
    7: [298, 296, 260, 257, 222, 204, 178, 174, 80, 78, 66, 13],
    8: [298, 296, 260, 254, 252, 80, 78, 76, 62],
    9: [134, 131],
    10: [151, 147, 145],
    18: [15],
}
streaks8 = [(229, 11, 17), (227, 13, 17), (216, 13, 15), (212, 12, 14), (199, 9, 11), (168, 9, 13), (167, 12, 14), (125, 16, 20), (112, 16, 19), (85, 17, 19), (70, 14, 16), (62, 15, 18), (55, 15, 16), (53, 15, 16), (49, 13, 15), (28, 18, 20), (14, 17, 20), (17, 18, 19), (154, 17, 20), (3, 12, 14),
            (283, 0, 8), (270, 2, 9), (245, 1, 8), (228, 0, 7), (190, 0, 4), (178, 0, 9), (165, 0, 9), (86, 0, 9), (82, 7, 10), (58, 0, 7), (32, 0, 6), (16, 0, 5)]
line8_x = [8.5, 7.9, 8.3, 7.8, 7.9, 8.2, 9, 8.8, 8.5, 9, 9.1, 8.7, 8.1, 8.4, 8.2, 8.8, 9.5, 10, 9.5, 9.3, 9.6, 9, 9, 10.5, 10.6, 10.1, 9.5, 9.7, 9.8, 9.5, 9.1]
line8_y = [0, 5, 17, 27, 44, 54, 58, 75, 87, 102, 109, 126, 132, 148, 153, 167, 173, 182, 194, 204, 211, 221, 225, 230, 242, 248, 254, 269, 281, 292, 300]

# panel 9
base9 = 'OOOOOOOOOOBBBBBBBBBB'
blocks9 = {
    3: [(166, 216, 'L'), (176, 181, 'L')],
    2: [(176, 179, 'L'), (182, 185, 'L'), (186, 190, 'L')],
    4: [(218, 235, 'L'), (167, 216, 'L')],
    5: [(236, 265, 'L'), (143, 166, 'L'), (78, 85, 'L')],
    6: [(275, 300, 'L'), (245, 268, 'L'), (216, 225, 'L'), (143, 162, 'L'), (101, 133, 'L'), (85, 100, 'L'), (50, 60, 'L')],
    7: [(268, 300, 'L'), (245, 267, 'B'), (228, 245, 'L'), (196, 200, 'B'), (142, 146, 'B'), (100, 142, 'L'), (61, 73, 'L'), (34, 50, 'L')],
    8: [(286, 300, 'L'), (267, 286, 'B'), (254, 260, 'B'), (215, 245, 'B'), (181, 196, 'B'), (145, 155, 'B'), (114, 142, 'B'), (92, 104, 'L'), (61, 73, 'L'), (0, 53, 'L'), (53, 58, 'L'), (58, 61, 'O')],
    9: [(260, 300, 'B'), (254, 260, 'O'), (200, 254, 'B'), (194, 200, 'O'), (182, 191, 'R'), (155, 182, 'B'), (143, 155, 'O'), (115, 137, 'O'), (106, 115, 'B'), (97, 103, 'B'), (73, 92, 'L'), (63, 73, 'B'), (50, 58, 'O'), (40, 50, 'L'), (0, 34, 'L'), (191, 194, 'O')],
    10: [(225, 274, 'O'), (247, 255, 'R'), (222, 225, 'R'), (176, 189, 'O'), (171, 176, 'R'), (107, 138, 'O'), (124, 128, 'R'), (104, 110, 'R'), (96, 102, 'O'), (97, 99, 'R'), (63, 73, 'O')],
    11: [(140, 168, 'O'), (156, 164, 'R')],
    12: [(193, 195, 'R')],
    14: [(194, 200, 'O'), (197, 199, 'R')],
    15: [(295, 300, 'O')],
    16: [(295, 300, 'O'), (299, 300, 'R'), (292, 295, 'G'), (288, 292, 'O'), (283, 288, 'R')],
    17: [(202, 294, 'O'), (275, 279, 'R'), (258, 266, 'R'), (244, 252, 'R'), (237, 240, 'R'), (217, 222, 'R')],
}
gray9 = {
    0: [296, 294, 292, 290, 288, 286, 284, 282, 280, 278, 276, 274, 272, 270, 264, 260, 258, 256, 250, 248, 246, 242, 240, 237, 233, 222, 218, 216, 214, 212, 203, 196, 187, 185, 183, 178, 176, 174, 165, 136, 134, 132, 130, 128, 122, 120, 118, 116, 114, 112, 110, 106, 104, 102, 100, 96, 94, 92, 88, 85, 72, 70, 68, 66, 50, 46, 42, 38, 27, 18, 16, 14, 12, 10, 8, 6, 4, 2],
    1: [296, 294, 264, 262, 260, 258, 250, 248, 244, 240, 229, 227, 198, 186, 184, 180, 167, 145, 142, 132, 128, 125, 119, 112, 100, 88, 50, 46, 43, 35, 14, 12, 10],
    2: [296, 294, 264, 262, 256, 240, 237, 222, 188, 184, 160, 158, 153, 128, 123, 120, 98, 88, 70, 50, 47, 44, 40, 28],
    3: [244, 229, 198, 188, 184, 180, 133, 128, 110, 90, 50, 46, 24, 22, 18],
    4: [233, 225, 198, 186, 184, 160, 132, 128, 125, 85, 77, 75, 52, 50, 48, 46, 44, 42, 28, 26, 14, 12, 10, 8],
    5: [233, 222, 201, 193, 186, 182, 175, 167, 114, 112, 110, 60, 21, 18, 12],
    6: [230, 205, 198, 186, 170, 112, 110, 106, 75, 50, 46, 20],
    7: [271, 253, 231, 208, 200, 176, 173, 112, 110, 105, 48, 44],
    8: [253, 202, 145, 114, 112, 46, 44],
    9: [200, 137, 135, 36, 34, 256],
}
streaks9 = [(284, 11, 14), (280, 11, 13), (278, 12, 13), (272, 11, 13), (279, 17, 19), (262, 16, 17), (250, 17, 19), (216, 17, 19), (224, 9, 11), (219, 11, 13), (217, 10, 12), (205, 9, 12), (195, 10, 12), (202, 15, 17), (106, 11, 13), (104, 12, 14), (140, 10, 11), (94, 10, 11), (73, 11, 12), (58, 9, 11), (39, 11, 12), (37, 12, 13),
            (268, 0, 5), (225, 0, 4), (205, 0, 5), (150, 1, 5), (138, 0, 5), (80, 2, 5), (62, 0, 8)]
line9_x = [8, 7.6, 7.4, 7, 7.2, 7.7, 7.1, 7.4, 7.1, 7.6, 6.9, 6.7, 6.9, 6.4, 5.7, 6.4, 6.2, 6.3, 6.1, 5.4, 5.7, 4.9, 5.3, 5.9, 6, 5.4, 5.6, 5.2, 5.5, 6.3]
line9_y = [0, 10, 32, 40, 50, 52, 67, 79, 84, 90, 99, 110, 118, 129, 142, 150, 167, 179, 191, 201, 208, 219, 233, 240, 257, 266, 274, 287, 293, 300]

# panel 10
base10 = 'OOOOOBBBBBBBBBBBBBBB'
blocks10 = {
    0: [(281, 296, 'L')],
    1: [(267, 280, 'L')],
    2: [(258, 280, 'L'), (144, 156, 'L'), (104, 110, 'L')],
    3: [(244, 268, 'L'), (184, 215, 'L'), (139, 145, 'L'), (113, 123, 'L'), (72, 104, 'L')],
    4: [(285, 299, 'L'), (216, 259, 'L'), (163, 184, 'L'), (123, 139, 'L'), (104, 117, 'L'), (77, 104, 'L'), (0, 10, 'L')],
    5: [(298, 299, 'L'), (211, 247, 'L'), (178, 186, 'L'), (113, 158, 'O'), (77, 111, 'O'), (43, 71, 'L'), (71, 75, 'O'), (26, 43, 'O'), (9, 25, 'L'), (4, 9, 'R'), (0, 4, 'L'), (190, 210, 'O'), (158, 178, 'O')],
    6: [(116, 177, 'L'), (44, 75, 'L'), (0, 25, 'L'), (211, 216, 'O'), (200, 206, 'O'), (190, 194, 'O'), (178, 185, 'O')],
    7: [(218, 224, 'O'), (190, 210, 'O'), (202, 204, 'R'), (32, 44, 'L'), (26, 31, 'O'), (6, 25, 'L'), (6, 12, 'O'), (13, 15, 'R')],
    8: [(256, 299, 'O'), (276, 278, 'R'), (255, 259, 'R'), (250, 255, 'O'), (106, 112, 'O'), (88, 105, 'L'), (78, 88, 'O'), (45, 67, 'O'), (25, 32, 'L'), (12, 21, 'O'), (0, 2, 'R')],
    9: [(226, 232, 'O'), (105, 161, 'L'), (88, 104, 'O'), (71, 88, 'L'), (3, 11, 'R'), (0, 3, 'O')],
    10: [(242, 253, 'O'), (75, 90, 'O'), (48, 71, 'L'), (35, 47, 'O')],
    11: [(92, 99, 'O'), (92, 94, 'R'), (103, 106, 'O'), (12, 48, 'L')],
    12: [(233, 248, 'O')],
    13: [(48, 79, 'O'), (76, 79, 'R'), (61, 69, 'R'), (137, 144, 'O'), (142, 144, 'R')],
    14: [(263, 298, 'O'), (226, 232, 'O'), (192, 214, 'O'), (187, 192, 'R'), (167, 174, 'O'), (131, 136, 'G'), (109, 130, 'O'), (109, 122, 'R'), (80, 90, 'O'), (84, 85, 'R')],
    15: [(285, 299, 'O'), (214, 218, 'O'), (174, 180, 'O'), (158, 165, 'O'), (111, 139, 'O'), (129, 134, 'R'), (91, 104, 'O'), (70, 77, 'R'), (54, 70, 'O'), (48, 53, 'R')],
    16: [(252, 278, 'O'), (278, 282, 'R'), (164, 176, 'R'), (157, 164, 'O'), (146, 157, 'R'), (139, 146, 'O'), (103, 110, 'O'), (43, 47, 'O'), (36, 43, 'R'), (0, 24, 'O')],
    17: [(277, 296, 'O'), (78, 103, 'O'), (81, 93, 'R'), (25, 32, 'O'), (32, 36, 'G')],
    18: [(296, 299, 'O'), (246, 263, 'O'), (263, 271, 'R'), (183, 192, 'O'), (192, 197, 'R')],
    19: [(225, 246, 'O'), (198, 220, 'O'), (211, 218, 'R'), (198, 204, 'R'), (216, 222, 'G')],
}
gray10 = {
    0: [281, 279, 275, 258, 256, 254, 252, 250, 248, 246, 243, 240, 238, 233, 231, 229, 227, 225, 216, 214, 210, 208, 190, 186, 178, 176, 172, 170, 152, 120, 118, 113, 111, 109, 106, 98, 96, 94, 92, 90, 88, 85, 82, 78, 74, 68, 54, 52, 50, 48, 35, 33, 20, 16, 14, 12, 10, 8, 6, 4, 2, 0],
    1: [272, 248, 233, 231, 229, 227, 225, 190, 178, 174, 165, 130, 120, 113, 109, 95, 92, 85, 53, 51, 49, 35, 20, 2],
    2: [233, 231, 229, 227, 225, 195, 178, 158, 128, 120, 113, 110, 86, 80, 30, 28, 18, 2],
    3: [230, 226, 192, 172, 162, 115, 78, 64, 50, 14],
    4: [240, 168, 162, 158, 152, 117, 78, 75],
    5: [175, 170, 166, 77],
    6: [187, 175, 172, 168, 165, 20, 18],
    7: [235, 180],
    8: [236, 234, 118, 72, 33],
    9: [238, 236, 106],
    10: [240, 238, 20],
    12: [262],
    13: [256, 261, 107],
    14: [262, 187, 185, 155, 153, 151, 147, 122],
    15: [258, 252, 186, 155, 152, 150],
    16: [225, 222, 288, 285],
    17: [225, 222, 180],
    18: [225, 222, 182],
    19: [226, 222, 179, 275],
}
streaks10 = [(250, 6, 8), (249, 6, 7), (265, 5, 7), (258, 12, 14), (240, 8, 11), (236, 8, 12), (197, 7, 9), (146, 10, 14), (104, 10, 14), (108, 12, 14), (102, 16, 19), (40, 16, 19), (34, 17, 19), (77, 7, 9), (72, 9, 12), (68, 6, 8), (98, 7, 9), (146, 12, 13), (20, 16, 18), (130, 13, 15), (237, 10, 12)]
line10_x = [5.4, 5.3, 5.8, 5.4, 6.4, 6.1, 6, 6.3, 5.7, 6.1, 5.5, 5.3, 5, 4.8, 5.7, 5.5, 5.8, 5.3, 5, 4.7, 5.2, 4.7, 5.5, 5, 4, 3.9, 4.1, 3.9]
line10_y = [0, 7, 17, 24, 29, 43, 53, 58, 67, 75, 84, 95, 104, 110, 117, 130, 143, 157, 174, 192, 210, 224, 233, 247, 259, 269, 286, 299]

# panel 11
base11 = 'LLLBBBBBBBLBBBBBBBBB'
blocks11 = {
    0: [(223, 224, 'G')],
    1: [(224, 225, 'G')],
    2: [(189, 220, 'O'), (188, 189, 'G')],
    3: [(189, 227, 'L'), (184, 187, 'O')],
    4: [(182, 184, 'O')],
    5: [(157, 171, 'O'), (117, 124, 'O'), (109, 116, 'R')],
    7: [(171, 181, 'R'), (149, 156, 'O'), (96, 106, 'O'), (58, 62, 'O')],
    8: [(126, 141, 'O'), (81, 96, 'O')],
    9: [(62, 81, 'L'), (9, 17, 'O'), (17, 20, 'R')],
    10: [(65, 74, 'R'), (8, 18, 'B'), (5, 7, 'O'), (0, 5, 'B')],
    11: [(266, 300, 'B'), (191, 217, 'O'), (158, 163, 'R'), (103, 124, 'O'), (76, 80, 'O'), (76, 78, 'R'), (28, 34, 'R'), (21, 28, 'O'), (0, 11, 'B')],
    12: [(191, 218, 'L'), (180, 189, 'O'), (156, 166, 'L'), (150, 153, 'O'), (103, 124, 'L'), (94, 102, 'O'), (88, 93, 'R'), (77, 88, 'O'), (72, 77, 'R'), (0, 35, 'L')],
    13: [(218, 230, 'O'), (153, 156, 'O')],
    14: [(230, 238, 'O'), (168, 178, 'O'), (169, 173, 'R'), (61, 69, 'O')],
    15: [(246, 255, 'O'), (252, 255, 'R'), (143, 145, 'O')],
    16: [(128, 143, 'O'), (46, 58, 'O')],
}
gray11 = {}
streaks11 = [(228, 4, 9), (229, 7, 8), (227, 8, 10), (243, 15, 17), (238, 15, 16), (240, 15, 17), (246, 16, 18), (257, 17, 18), (258, 16, 17), (146, 14, 16), (148, 14, 16), (143, 5, 8), (145, 6, 7), (147, 8, 9), (125, 8, 10), (118, 7, 8), (107, 5, 9), (106, 8, 9), (127, 12, 13), (128, 13, 17), (190, 12, 14), (180, 13, 15), (60, 15, 17), (58, 15, 17), (62, 14, 15), (70, 14, 17), (36, 12, 18), (38, 14, 16), (40, 16, 19), (42, 18, 20), (44, 18, 20), (63, 9, 13), (20, 9, 12), (22, 9, 12), (7, 11, 13), (2, 7, 9), (4, 8, 10), (166, 10, 12), (165, 10, 11)]
line11_x = [2.2, 1.5, 1.6, 1.2, 1.5, 0.9, 1.3, 1, 1.4, 1.2, 1.5, 1.3, 1.2, 1.2, 1.8, 1.6, 2.7, 2.5, 2.8, 2.2, 1.5, 1.5, 1.9, 1.8]
line11_y = [0, 6, 19, 29, 37, 42, 58, 70, 80, 104, 111, 126, 130, 150, 164, 174, 186, 198, 225, 239, 252, 266, 285, 300]

x_ticks = [5, 10, 15, 20]
y_ticks = [50, 100, 150, 200, 250, 300]

# caption lines, cut by the right edge in the original
caption_head = 'Slika 3'
caption = ['Kimografni prikaz jednog',
           'mikrotubula u različitim fazama sim',
           'U kimografu na x-osi se nalazi polo',
           'jedinicama od 8nm, na vertikalnoj o',
           'vrijeme γt. Prazna vezna mjesta',
           'mikrotubula su prikazana sivom boj',
           'Aktivni proteini su prikazani toplim',
           'pasivni hladnim bojama. Boje su',
           'intenzivnije ako je protein vezan na',
           'kraja. Slike se čitaju red po red, od 1',
           'Slike 1-8 su u kontinuitetu. Slike 9, 1',
           'su snimljene sa vremenskim razmak',
           'između.']

W, H = 1104, 1859
cmap = ListedColormap(COLORS)


def panel(box, base, blocks, gray, streaks, line_x, line_y):
    # box = pixels of x=0, x=20, y=300, y=0
    x0, x1, ytop, ybot = box
    ux = (x1 - x0) / 20.0
    uy = (ybot - ytop) / 300.0
    left = x0 - 0.4 * ux
    right = x1 + 0.4 * ux
    top = ytop - 7 * uy
    ax = plt.axes([left / W, 1 - ybot / H, (right - left) / W, (ybot - top) / H])

    grid = np.array([[CODES[c]] * 300 for c in base]).T
    for col, ys in gray.items():
        for y in ys:
            grid[y:y + 3, col] = CODES['G']
    for col, segs in blocks.items():
        for y0, y1, c in segs:
            grid[y0:y1, col] = CODES[c]
    # streaks stay thin and do not cover the coloured blocks of the left part
    for row, c0, c1 in streaks:
        grid[row, c0:c1] = CODES['G']

    ax.pcolormesh(np.arange(21), np.arange(301), grid, cmap=cmap, vmin=0, vmax=4)
    ax.vlines(np.arange(1, 20), 0, 300, color='white', lw=0.5, alpha=0.15)
    ax.plot(line_x, line_y, color='black', lw=3.4, solid_capstyle='round', solid_joinstyle='round')

    ax.set_xlim(-0.4, 20.4)
    ax.set_ylim(0, 307)
    ax.spines['top'].set_visible(False)
    ax.spines['right'].set_visible(False)
    ax.spines['left'].set_position(('data', 0))
    ax.spines['left'].set_linewidth(1.1)
    ax.spines['bottom'].set_linewidth(1.1)
    ax.set_xticks(x_ticks)
    ax.set_yticks(y_ticks)
    ax.set_xticks(np.arange(1, 21), minor=True)
    ax.set_yticks(np.arange(10, 301, 10), minor=True)
    ax.tick_params(which='major', direction='in', length=4, width=0.8, labelsize=11.5, labelcolor='#222222')
    ax.tick_params(which='minor', direction='in', length=2, width=0.6)
    ax.tick_params(axis='x', which='major', pad=6)
    ax.tick_params(axis='y', which='major', pad=6)
    return ax


fig = plt.figure(figsize=(W / 100.0, H / 100.0), dpi=100)

panel((50.7, 332.5, 17, 430), base1, blocks1, gray1, streaks1, line1_x, line1_y)
panel((441.7, 715.7, 16.5, 429), base2, blocks2, gray2, streaks2, line2_x, line2_y)
panel((814.3, 1089, 16.5, 429), base3, blocks3, gray3, streaks3, line3_x, line3_y)
panel((49.7, 325.7, 485.3, 899.3), base4, blocks4, gray4, streaks4, line4_x, line4_y)
panel((439, 714.7, 485.3, 899.3), base5, blocks5, gray5, streaks5, line5_x, line5_y)
panel((811.7, 1086.7, 485.3, 899.3), base6, blocks6, gray6, streaks6, line6_x, line6_y)
panel((49.7, 324, 954.3, 1367), base7, blocks7, gray7, streaks7, line7_x, line7_y)
panel((439, 714.7, 954.3, 1367), base8, blocks8, gray8, streaks8, line8_x, line8_y)
panel((807.7, 1082.7, 954.3, 1367), base9, blocks9, gray9, streaks9, line9_x, line9_y)
panel((59.3, 332.7, 1423.7, 1836), base10, blocks10, gray10, streaks10, line10_x, line10_y)
panel((439, 714.7, 1423.7, 1836), base11, blocks11, gray11, streaks11, line11_x, line11_y)

caption_style = dict(color='#4F81BD', fontsize=16.6, fontweight='bold', va='center', family=['Lato', 'DejaVu Sans'])
fig.text(756 / W, 1 - 1447.7 / H, caption_head, **caption_style)
for i, line in enumerate(caption):
    x = 825 if i == 0 else 756
    fig.text(x / W, 1 - (1447.7 + i * 29.3) / H, line, style='italic', **caption_style)

fig.savefig('out.png', dpi=100)
